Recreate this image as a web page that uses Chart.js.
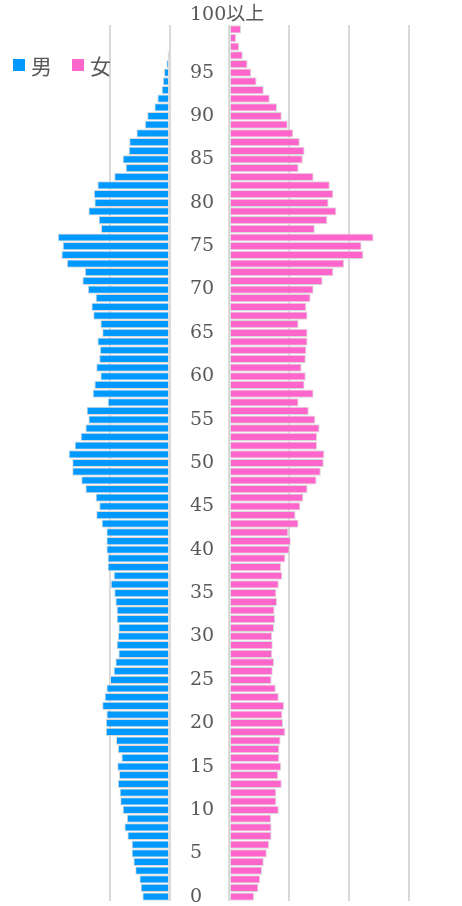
<!DOCTYPE html>
<html>
<head>
<meta charset="utf-8">
<script src="https://cdn.jsdelivr.net/npm/chart.js@4"></script>
<style>
  html, body { margin: 0; padding: 0; background: #fff; }
  #wrap { position: relative; width: 462px; height: 906px; overflow: hidden; }
  #wrap canvas { position: absolute; left: 0; top: 0; }
  #legend { position: absolute; left: 13px; top: 53px; display: flex; align-items: center; line-height: 24px;
            font-family: 'Noto Sans CJK JP', sans-serif; font-size: 21px; color: #595959; }
  #legend .item { display: flex; align-items: center; margin-right: 20px; }
  #legend .box { width: 12px; height: 12px; margin-right: 6px; }
</style>
</head>
<body>
<div id="wrap">
  <canvas id="maleChart" width="462" height="906"></canvas>
  <canvas id="femaleChart" width="462" height="906"></canvas>
  <div id="legend"></div>
</div>
<script>
// ages 0..99 plus 100以上
const AGES = [];
for (let a = 0; a <= 99; a++) AGES.push(String(a));
AGES.push('100以上');

const MALE = [
  46, 49, 51, 58, 61, 64, 64, 71, 76, 72,
  79, 83, 84, 87, 85, 88, 81, 87, 90, 107,
  107, 106, 113, 109, 106, 100, 94, 91, 86, 89,
  87, 86, 89, 89, 91, 93, 99, 94, 104, 104,
  106, 106, 106, 114, 123, 118, 124, 141, 148, 163,
  163, 169, 159, 149, 141, 136, 139, 104, 129, 126,
  116, 123, 118, 117, 121, 113, 116, 128, 131, 124,
  137, 146, 142, 172, 181, 179, 187, 115, 119, 136,
  126, 127, 121, 93, 74, 79, 69, 68, 56, 42,
  38, 26, 21, 14, 12, 10, 6, 4, 2, 0,
  0
];

const FEMALE = [
  42, 49, 52, 55, 58, 63, 67, 71, 71, 70,
  83, 79, 79, 88, 82, 87, 84, 84, 86, 94,
  90, 89, 92, 83, 78, 71, 73, 75, 72, 73,
  72, 75, 77, 76, 80, 79, 83, 89, 87, 94,
  101, 103, 99, 116, 111, 119, 124, 131, 146, 153,
  158, 159, 147, 147, 151, 144, 133, 116, 141, 126,
  128, 121, 128, 129, 131, 131, 116, 131, 129, 136,
  141, 156, 174, 192, 224, 221, 241, 143, 164, 179,
  166, 174, 168, 141, 116, 123, 126, 118, 107, 98,
  88, 80, 68, 58, 46, 37, 31, 23, 17, 12,
  20
];

const STEP = 100;
const BLUE = '#0099FF';
const PINK = '#FF66CC';
const GRID = '#d9d9d9';
const TEXT = '#595959';

const barStyle = {
    borderColor: '#d9d9d9',
    borderWidth: 1,
    borderSkipped: false,
    barPercentage: 0.95,
    categoryPercentage: 1
};

const keepSteps = scale => {
    scale.ticks = scale.ticks.filter(t => t.value % STEP === 0);
};

// left half: men, value axis runs right to left
const maleChart = new Chart(document.getElementById('maleChart'), {
    type: 'bar',
    data: {
        labels: AGES,
        datasets: [{ label: '男', data: MALE, backgroundColor: BLUE, ...barStyle }]
    },
    options: {
        indexAxis: 'y',
        responsive: false,
        animation: false,
        layout: { padding: { top: 25, bottom: 5, left: 0, right: 192 } },
        plugins: { legend: { display: false }, tooltip: { enabled: false } },
        scales: {
            x: {
                reverse: true,
                min: 0,
                max: STEP * 170 / 60,
                ticks: { display: false, stepSize: STEP },
                afterBuildTicks: keepSteps,
                grid: { color: GRID, lineWidth: 2, drawTicks: false },
                border: { display: false }
            },
            y: {
                position: 'right',
                reverse: true,
                // wide enough so 100以上 is not clipped; no extra top/bottom room
                afterFit: scale => {
                    scale.width = 100;
                    scale.paddingTop = 0;
                    scale.paddingBottom = 0;
                },
                grid: { display: false, drawTicks: false },
                border: { display: false },
                ticks: {
                    autoSkip: false,
                    padding: 20,
                    color: TEXT,
                    font: { family: "'DejaVu Serif', 'Noto Sans CJK JP', serif", size: 19, lineHeight: 1.47 },
                    callback: (val, i) => {
                        if (i === 100) return [AGES[i], ''];
                        return i % 5 === 0 ? AGES[i] : '';
                    }
                }
            }
        }
    }
});

// right half: women
const femaleChart = new Chart(document.getElementById('femaleChart'), {
    type: 'bar',
    data: {
        labels: AGES,
        datasets: [{ label: '女', data: FEMALE, backgroundColor: PINK, ...barStyle }]
    },
    options: {
        indexAxis: 'y',
        responsive: false,
        animation: false,
        layout: { padding: { top: 25, bottom: 5, left: 229, right: 53 } },
        plugins: { legend: { display: false }, tooltip: { enabled: false } },
        scales: {
            x: {
                min: 0,
                max: STEP * 3,
                ticks: { display: false, stepSize: STEP },
                grid: { color: GRID, lineWidth: 2, drawTicks: false },
                border: { display: false }
            },
            y: { display: false, reverse: true }
        }
    }
});

// legend built from the two datasets
const legendEl = document.getElementById('legend');
[maleChart, femaleChart].forEach(chart => {
    const ds = chart.data.datasets[0];
    const item = document.createElement('span');
    item.className = 'item';
    item.innerHTML = `<span class="box" style="background:${ds.backgroundColor}"></span><span>${ds.label}</span>`;
    legendEl.appendChild(item);
});
</script>
</body>
</html>
